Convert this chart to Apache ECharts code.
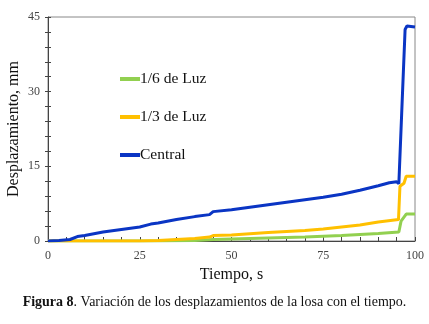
<!DOCTYPE html>
<html>
<head>
<meta charset="utf-8">
<script src="https://cdn.jsdelivr.net/npm/echarts@6/dist/echarts.min.js"></script>
<style>
  html, body { margin: 0; padding: 0; background: #fff; }
  #chart { width: 429px; height: 324px; }
</style>
</head>
<body>
<div id="chart"></div>
<script>
// values (tiempo s, desplazamiento mm)
const seriesNames = ['1/6 de Luz', '1/3 de Luz', 'Central'];
const luz6 = [[0,0],[30,0],[40,0.1],[45,0.3],[50,0.4],[60,0.6],[70,0.8],[80,1.1],[90,1.5],[95.6,1.8],[96.2,4],[97.6,5.4],[100,5.4]];
const luz3 = [[0,0],[25,0],[30,0.1],[40,0.5],[44,0.8],[45,1.1],[50,1.2],[60,1.7],[70,2.1],[75,2.4],[80,2.8],[85,3.2],[90,3.8],[95.5,4.3],[95.9,11],[97,11.6],[97.6,13],[100,13]];
const central = [[0,0],[3,0.1],[6,0.3],[8,0.9],[10,1.1],[15,1.8],[20,2.3],[25,2.8],[28,3.4],[30,3.6],[35,4.3],[40,4.9],[44,5.3],[45,5.9],[50,6.3],[55,6.8],[60,7.3],[65,7.8],[70,8.3],[75,8.8],[80,9.4],[85,10.2],[90,11.1],[93,11.7],[95,11.9],[95.6,11.5],[96.5,28],[97.3,42.5],[97.8,43.2],[100,43]];
const colors = ['#92d050', '#ffc000', '#0a35c4'];

const chart = echarts.init(document.getElementById('chart'));
const serif = '"Liberation Serif", "DejaVu Serif", serif';

const option = {
  animation: false,
  color: colors,
  textStyle: { fontFamily: serif },
  title: {
    left: 'center',
    top: 290,
    text: '{b|Figura 8}. Variación de los desplazamientos de la losa con el tiempo.',
    textStyle: {
      fontFamily: serif, fontSize: 14, fontWeight: 'normal', color: '#111',
      rich: { b: { fontFamily: serif, fontSize: 14, fontWeight: 'bold', color: '#111' } }
    }
  },
  legend: {
    orient: 'vertical',
    left: 115,
    top: 66,
    itemGap: 22,
    itemWidth: 20,
    itemHeight: 4,
    icon: 'rect',
    data: seriesNames,
    textStyle: { fontFamily: serif, fontSize: 15.5, color: '#111', padding: [0, 0, 0, -5] }
  },
  grid: {
    left: 48, right: 14, top: 17, bottom: 83,
    outerBoundsMode: 'none',
    containLabel: false,
    show: true, borderColor: '#888', borderWidth: 1
  },
  xAxis: {
    type: 'value',
    min: 0, max: 100, interval: 25,
    name: 'Tiempo, s',
    nameLocation: 'middle',
    nameGap: 26,
    nameTextStyle: { fontFamily: serif, fontSize: 16, color: '#111' },
    axisLine: { lineStyle: { color: '#444' } },
    axisTick: { inside: true, length: 4, lineStyle: { color: '#444' } },
    minorTick: { show: true, splitNumber: 5, length: 4, lineStyle: { color: '#444' } },
    axisLabel: { fontFamily: serif, fontSize: 12, color: '#444', margin: 9 },
    splitLine: { show: false }
  },
  yAxis: [{
    type: 'value',
    min: 0, max: 45, interval: 15,
    name: 'Desplazamiento, mm',
    nameLocation: 'middle',
    nameGap: 26,
    nameMoveOverlap: false,
    nameTextStyle: { fontFamily: serif, fontSize: 16, color: '#111' },
    axisLine: { show: true, lineStyle: { color: '#444' } },
    axisTick: { show: true, length: 3, lineStyle: { color: '#444' } },
    minorTick: { show: true, splitNumber: 5, length: 3, lineStyle: { color: '#444' } },
    axisLabel: { fontFamily: serif, fontSize: 12, color: '#444', margin: 8 },
    splitLine: { show: false }
  }, {
    type: 'value',
    position: 'left',
    min: 0, max: 45, interval: 15,
    axisLine: { show: false },
    axisTick: { show: true, inside: true, length: 3, lineStyle: { color: '#444' } },
    minorTick: { show: true, splitNumber: 5, length: 3, lineStyle: { color: '#444' } },
    axisLabel: { show: false },
    splitLine: { show: false }
  }],
  series: [
    { name: seriesNames[0], type: 'line', data: luz6, symbol: 'none', z: 3, lineStyle: { width: 3 } },
    { name: seriesNames[1], type: 'line', data: luz3, symbol: 'none', z: 4, lineStyle: { width: 3 } },
    { name: seriesNames[2], type: 'line', data: central, symbol: 'none', z: 5, lineStyle: { width: 3 } }
  ]
};

chart.setOption(option);
</script>
</body>
</html>
